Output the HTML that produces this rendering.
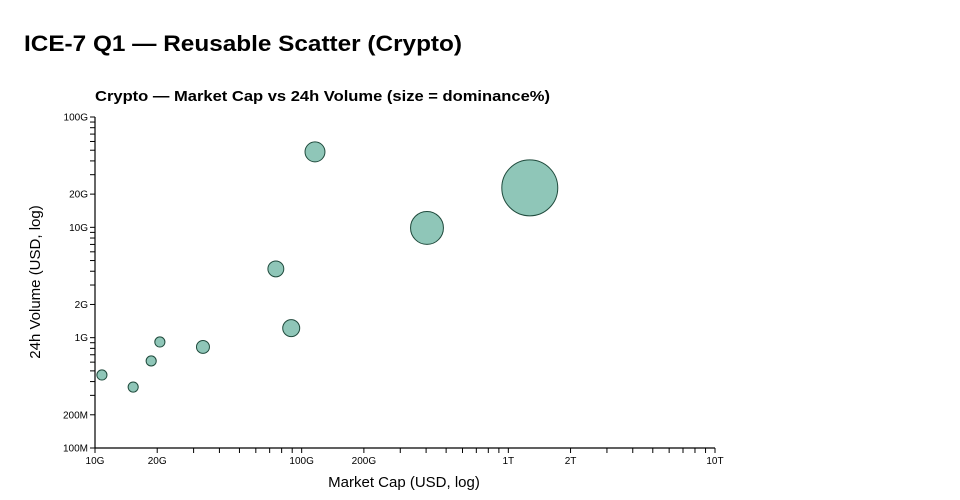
<!DOCTYPE html>
<html><head><meta charset="utf-8"><style>
html,body{margin:0;padding:0;background:#fff;width:960px;height:500px;overflow:hidden}
text{font-family:"Liberation Sans","DejaVu Sans",sans-serif;fill:#000}
</style></head><body>
<svg id="chart" width="960" height="500" xmlns="http://www.w3.org/2000/svg">
<text x="24" y="51" font-size="22" font-weight="bold" textLength="438" lengthAdjust="spacingAndGlyphs">ICE-7 Q1 — Reusable Scatter (Crypto)</text>
<text x="95" y="101" font-size="15" font-weight="bold" textLength="455" lengthAdjust="spacingAndGlyphs">Crypto — Market Cap vs 24h Volume (size = dominance%)</text>
<g id="axes"></g>
<g id="marks"></g>
<text x="404" y="487" font-size="15" text-anchor="middle" fill="#222">Market Cap (USD, log)</text>
<text transform="translate(40,282) rotate(-90)" font-size="15" text-anchor="middle" fill="#222">24h Volume (USD, log)</text>
</svg>
<script>
const marketCap = [10.8e9, 15.3e9, 18.7e9, 20.6e9, 33.3e9, 75e9, 89e9, 116e9, 404e9, 1.27e12];
const volume24h = [459e6, 357e6, 615e6, 914e6, 824e6, 4.2e9, 1.22e9, 48.3e9, 9.88e9, 22.8e9];
const dominance = [1.7, 1.7, 1.7, 1.7, 2.8, 4.2, 4.8, 6.6, 18, 52];
const xTickVals = [1e10, 2e10, 1e11, 2e11, 1e12, 2e12, 1e13];
const xTickLabels = ["10G","20G","100G","200G","1T","2T","10T"];
const yTickVals = [1e8, 2e8, 1e9, 2e9, 1e10, 2e10, 1e11];
const yTickLabels = ["100M","200M","1G","2G","10G","20G","100G"];

const X0=95, X1=715, Y0=448, Y1=117;
const xMin=1e10, xMax=1e13, yMin=1e8, yMax=1e11;
function xs(v){return X0+(Math.log10(v)-Math.log10(xMin))/(Math.log10(xMax)-Math.log10(xMin))*(X1-X0);}
function ys(v){return Y0-(Math.log10(v)-Math.log10(yMin))/(Math.log10(yMax)-Math.log10(yMin))*(Y0-Y1);}
function rs(d){return 3.88*Math.sqrt(d);}
const NS="http://www.w3.org/2000/svg";
const axes=document.getElementById('axes');
function mk(tag,attrs,parent){const e=document.createElementNS(NS,tag);for(const k in attrs)e.setAttribute(k,attrs[k]);parent.appendChild(e);return e;}

let l=mk('line',{x1:X0,y1:Y0,x2:X1,y2:Y0,stroke:'#000','stroke-width':1.2},axes);


l=mk('line',{x1:X0,y1:Y0,x2:X0,y2:Y1,stroke:'#000','stroke-width':1.2},axes);



for(let e=10;e<13;e++){for(let m=1;m<=9;m++){const v=m*Math.pow(10,e);const x=xs(v);
 const t=mk('line',{x1:x,y1:Y0,x2:x,y2:Y0+5,stroke:'#000','stroke-width':1},axes);
 
 }}
mk('line',{x1:X1,y1:Y0,x2:X1,y2:Y0+5,stroke:'#000'},axes);
for(let e=8;e<11;e++){for(let m=1;m<=9;m++){const v=m*Math.pow(10,e);const y=ys(v);
 const t=mk('line',{x1:X0-5,y1:y,x2:X0,y2:y,stroke:'#000','stroke-width':1},axes);
 
 }}
mk('line',{x1:X0-5,y1:Y1,x2:X0,y2:Y1,stroke:'#000'},axes);

xTickVals.forEach((v,i)=>{const t=mk('text',{x:xs(v),y:Y0+16,'font-size':10,'text-anchor':'middle',fill:'#222'},axes);
 t.textContent=xTickLabels[i];
 
 });
yTickVals.forEach((v,i)=>{const t=mk('text',{x:X0-7,y:ys(v)+3.5,'font-size':10,'text-anchor':'end',fill:'#222'},axes);
 t.textContent=yTickLabels[i];
 
 });

const marks=document.getElementById('marks');
marketCap.forEach((v,i)=>{const c=mk('circle',{cx:xs(v),cy:ys(volume24h[i]),r:rs(dominance[i]),fill:'#8fc6b8',stroke:'#1f4a3c','stroke-width':1},marks);
 
 });
</script>
</body></html>
